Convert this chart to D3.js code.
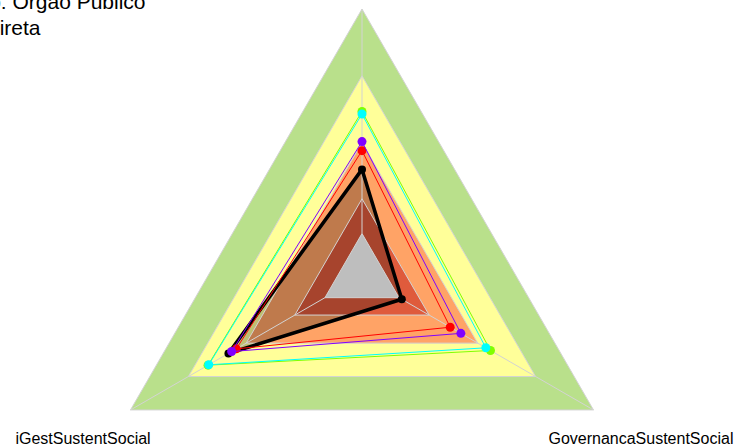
<!DOCTYPE html>
<html>
<head>
<meta charset="utf-8">
<script src="https://cdn.jsdelivr.net/npm/d3@7"></script>
<style>
  body { margin: 0; background: #fff; }
  svg { display: block; font-family: "Liberation Sans", Arial, sans-serif; }
</style>
</head>
<body>
<svg id="chart" width="738" height="448"></svg>
<script>
// eixos do radar (topo, esquerda, direita)
var eixos = ["PraticaSustentSocial", "iGestSustentSocial", "GovernancaSustentSocial"];

// faixas de referencia (limite externo de cada faixa, proporcao do raio)
var faixas = [1.0, 0.75, 0.5, 0.29, 0.16];
var coresFaixas = ["#b9e08b", "#ffff99", "#ffa366", "#df5b3c", "#bebebe"];

// series comparativas
var serieVermelha = [0.47, 0.543, 0.381];
var serieVerde = [0.617, 0.665, 0.555];
var serieCiano = [0.607, 0.662, 0.535];
var serieRoxa = [0.504, 0.563, 0.427];
// orgao avaliado
var serieOrgao = [0.40, 0.577, 0.172];

var titulo1 = "Tipo: Orgão Público", corte1 = 4;
var titulo2 = "Administração Direta", corte2 = 15;

var width = 738, height = 448,
    cx = 362, cy = 276.3, R = 267.3;

var svg = d3.select("#chart");
var r = d3.scaleLinear().domain([0, 1]).range([0, R]);
// topo = -90deg, esquerda = 150deg, direita = 30deg
var angulos = [-90, 150, 30];
function ponto(v, i) {
  var a = angulos[i] * Math.PI / 180;
  return [cx + r(v) * Math.cos(a), cy + r(v) * Math.sin(a)];
}
var linha = d3.line().curve(d3.curveLinearClosed);

// faixas
svg.append("g").selectAll("path").data(faixas.slice(0, 4)).join("path")
  .attr("d", function(f) { return linha(eixos.map(function(e, i) { return ponto(f, i); })); })
  .attr("fill", function(f, k) { return coresFaixas[k]; });

// preenchimento do orgao
svg.append("path")
  .attr("d", linha(serieOrgao.map(ponto)))
  .attr("fill", "rgba(0,0,0,0.25)");

// centro cinza
svg.append("path")
  .attr("d", linha(eixos.map(function(e, i) { return ponto(faixas[4], i); })))
  .attr("fill", coresFaixas[4]);

// grade
var grade = svg.append("g").attr("fill", "none").attr("stroke", "#d3d3d3").attr("stroke-width", 1);
grade.selectAll("path").data(faixas).join("path")
  .attr("d", function(f) { return linha(eixos.map(function(e, i) { return ponto(f, i); })); });
grade.selectAll("line").data(eixos).join("line")
  .attr("x1", function(e, i) { return ponto(faixas[4], i)[0]; })
  .attr("y1", function(e, i) { return ponto(faixas[4], i)[1]; })
  .attr("x2", function(e, i) { return ponto(1, i)[0]; })
  .attr("y2", function(e, i) { return ponto(1, i)[1]; });

// series
var series = [
  { v: serieOrgao, cor: "#000000", lw: 3.5, pr: 4 },
  { v: serieVermelha, cor: "#ff0000", lw: 1, pr: 4.5 },
  { v: serieVerde, cor: "#80ff00", lw: 1, pr: 4.5 },
  { v: serieCiano, cor: "#00ffff", lw: 1, pr: 4.5 },
  { v: serieRoxa, cor: "#8000ff", lw: 1, pr: 4.5 }
];
series.forEach(function(s) {
  var g = svg.append("g");
  g.append("path").attr("d", linha(s.v.map(ponto)))
    .attr("fill", "none").attr("stroke", s.cor).attr("stroke-width", s.lw)
    .attr("stroke-linejoin", "round");
  g.selectAll("circle").data(s.v).join("circle")
    .attr("cx", function(v, i) { return ponto(v, i)[0]; })
    .attr("cy", function(v, i) { return ponto(v, i)[1]; })
    .attr("r", s.pr).attr("fill", s.cor);
});

// rotulos dos eixos
svg.append("g").selectAll("text").data(eixos).join("text")
  .attr("x", function(e, i) { return ponto(1.205, i)[0]; })
  .attr("y", function(e, i) { return ponto(1.205, i)[1] + 7; })
  .attr("text-anchor", "middle")
  .attr("font-size", 16).attr("fill", "#000")
  .text(function(e) { return e; });

// titulo (cortado na borda esquerda)
var t1 = svg.append("text").attr("y", 9).attr("font-size", 21).text(titulo1);
t1.attr("x", 0.8 - t1.node().getSubStringLength(0, corte1));
var t2 = svg.append("text").attr("y", 35).attr("font-size", 21).text(titulo2);
t2.attr("x", -0.3 - t2.node().getSubStringLength(0, corte2));
</script>
</body>
</html>
